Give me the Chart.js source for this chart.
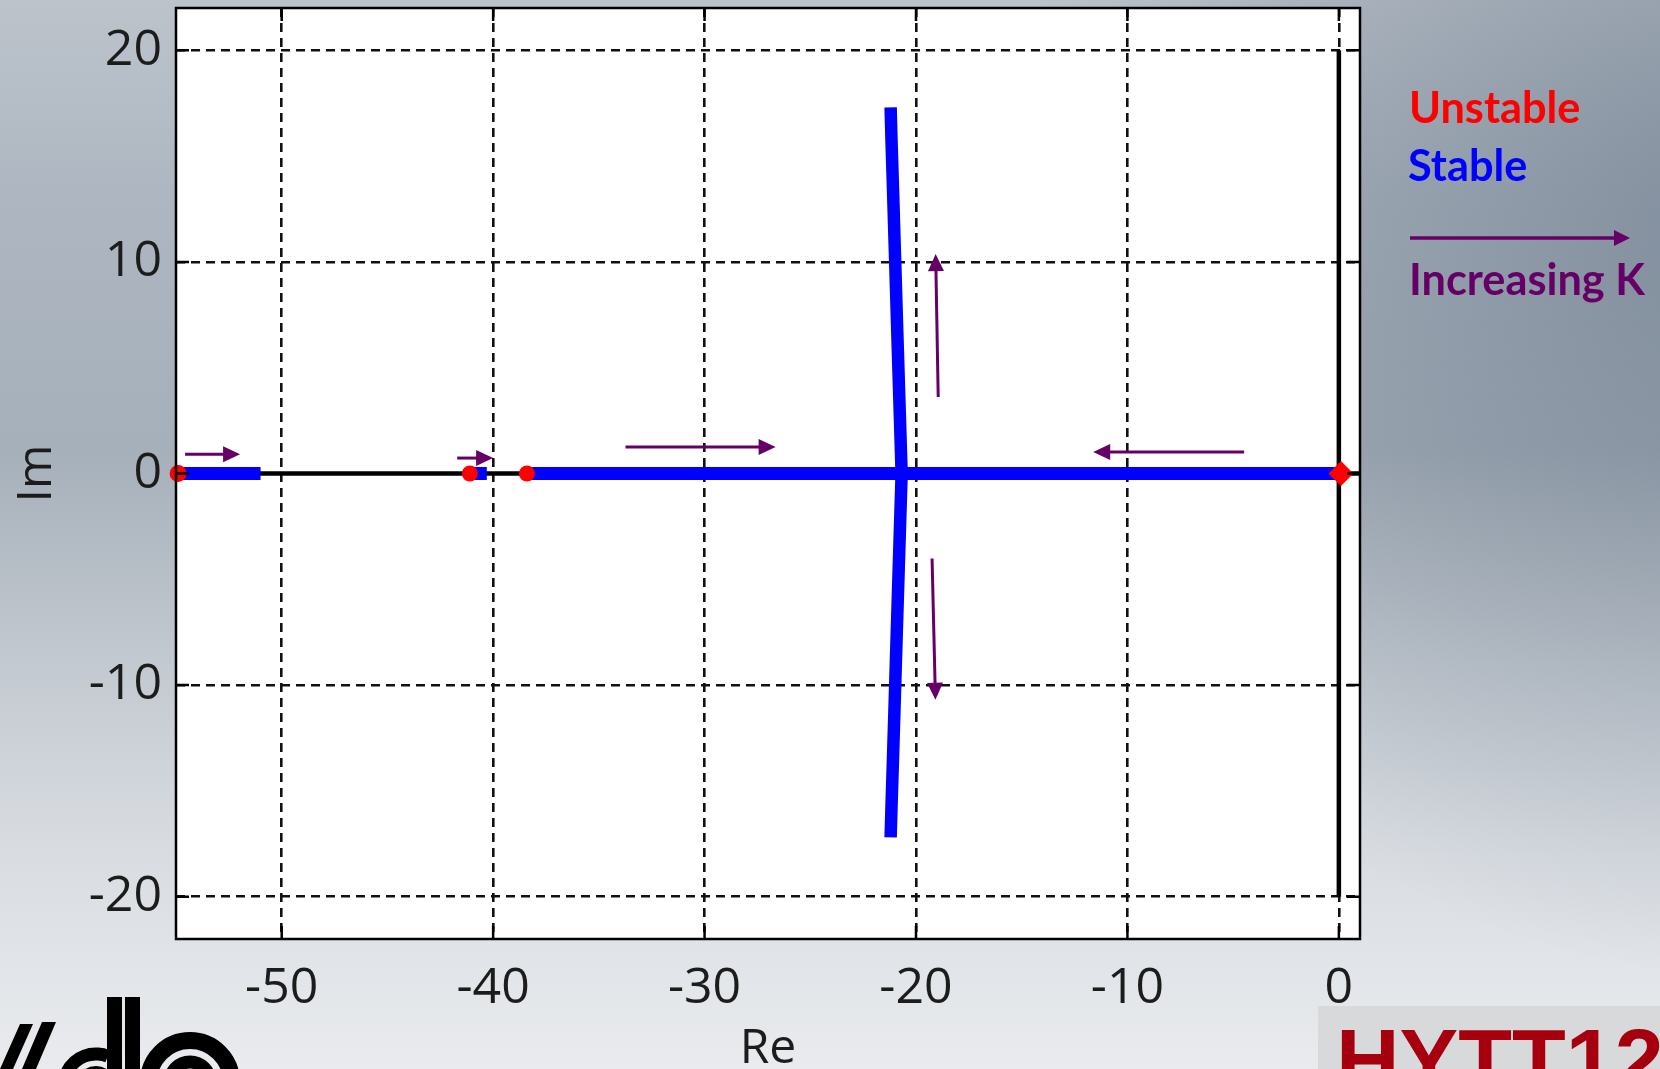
<!DOCTYPE html>
<html>
<head>
<meta charset="utf-8">
<title>Root locus</title>
<script src="https://cdn.jsdelivr.net/npm/chart.js@4.4.1/dist/chart.umd.min.js"></script>
<style>
  html, body { margin: 0; padding: 0; background: #e4e7ea; }
  #wrap { width: 1660px; height: 1069px; position: relative; overflow: hidden; }
  canvas { display: block; }
</style>
</head>
<body>
<div id="wrap"><canvas id="locus" width="1660" height="1069"></canvas></div>
<script>
// ---- axis ticks ----
const reTicks = [-50, -40, -30, -20, -10, 0];
const imTicks = [-20, -10, 0, 10, 20];

// ---- reference axes drawn inside the plot ----
const realAxisRe = [-55, 1];
const realAxisIm = [0, 0];
const imagAxisRe = [0, 0];
const imagAxisIm = [-20, 20];

// ---- stable locus branches on the real axis ----
const branch1Re = [-55, -51.0];
const branch2Re = [-41.1, -40.3];
const branch3Re = [-38.4, 0];
const branchIm  = [0, 0];

// ---- complex branch leaving the real axis near -20.7 ----
const complexRe = [-21.2, -21.16, -21.08, -20.99, -20.87, -20.68, -20.87, -20.99, -21.08, -21.16, -21.2];
const complexIm = [17.3, 15.8, 13.2, 10.2, 6.2, 0, -6.2, -10.2, -13.2, -15.8, -17.2];

// ---- open-loop poles ----
const poleRe = [-54.9, -41.1, -38.4, 0.1];
const poleIm = [0, 0, 0, 0];

// ---- direction arrows (increasing K) ----
const arrowFromRe = [-54.57, -41.7, -33.74, -4.48, -18.95, -19.24];
const arrowFromIm = [0.91, 0.73, 1.25, 1.02, 3.62, -4.02];
const arrowToRe   = [-51.97, -40.0, -26.64, -11.62, -19.07, -19.08];
const arrowToIm   = [0.91, 0.73, 1.25, 1.02, 10.37, -10.69];

const pts = (xs, ys) => xs.map((x, i) => ({ x: x, y: ys[i] }));

const BLUE = '#0000ff', RED = '#ff0000', PURPLE = '#660066', INK = '#1c1c1c';
const TICK_FONT = '"Open Sans", "Noto Sans", sans-serif';

function arrow(ctx, x1, y1, x2, y2, len, half, width, color) {
  const a = Math.atan2(y2 - y1, x2 - x1);
  const bx = x2 - len * Math.cos(a), by = y2 - len * Math.sin(a);
  ctx.save();
  ctx.strokeStyle = color;
  ctx.fillStyle = color;
  ctx.lineWidth = width;
  ctx.beginPath();
  ctx.moveTo(x1, y1);
  ctx.lineTo(bx + Math.cos(a), by + Math.sin(a));
  ctx.stroke();
  ctx.beginPath();
  ctx.moveTo(x2, y2);
  ctx.lineTo(bx + half * Math.sin(a), by - half * Math.cos(a));
  ctx.lineTo(bx - half * Math.sin(a), by + half * Math.cos(a));
  ctx.closePath();
  ctx.fill();
  ctx.restore();
}

// slide backdrop, plot background
const backdrop = {
  id: 'backdrop',
  beforeDraw(chart) {
    const { ctx, width, height, chartArea: ca } = chart;
    ctx.save();
    const g = ctx.createLinearGradient(0, 0, 0, height);
    g.addColorStop(0, '#bcc3cb');
    g.addColorStop(0.18, '#aeb7c1');
    g.addColorStop(0.42, '#a6b0ba');
    g.addColorStop(0.62, '#c3c9d0');
    g.addColorStop(0.8, '#d9dde2');
    g.addColorStop(1, '#e9ebee');
    ctx.fillStyle = g;
    ctx.fillRect(0, 0, width, height);
    const r = ctx.createRadialGradient(1760, 220, 40, 1760, 220, 760);
    r.addColorStop(0, 'rgba(70,88,110,0.42)');
    r.addColorStop(1, 'rgba(70,88,110,0)');
    ctx.fillStyle = r;
    ctx.fillRect(0, 0, width, height);
    ctx.fillStyle = '#ffffff';
    ctx.fillRect(ca.left, ca.top, ca.right - ca.left, ca.bottom - ca.top);
    ctx.restore();
  }
};

// arrows, frame with inward tick marks, key and slide marks
const overlay = {
  id: 'overlay',
  afterDatasetsDraw(chart) {
    const { ctx, chartArea: ca, scales: { x, y } } = chart;
    ctx.save();
    ctx.beginPath();
    ctx.rect(ca.left, ca.top, ca.right - ca.left, ca.bottom - ca.top);
    ctx.clip();
    arrowFromRe.forEach((_, i) => {
      arrow(ctx,
        x.getPixelForValue(arrowFromRe[i]), y.getPixelForValue(arrowFromIm[i]),
        x.getPixelForValue(arrowToRe[i]), y.getPixelForValue(arrowToIm[i]),
        17, 8, 3, PURPLE);
    });
    ctx.restore();

    ctx.save();
    ctx.strokeStyle = '#000';
    ctx.lineWidth = 2.5;
    const tl = 13;
    ctx.beginPath();
    reTicks.forEach(v => {
      const px = x.getPixelForValue(v);
      ctx.moveTo(px, ca.bottom); ctx.lineTo(px, ca.bottom - tl);
      ctx.moveTo(px, ca.top); ctx.lineTo(px, ca.top + tl);
    });
    imTicks.forEach(v => {
      const py = y.getPixelForValue(v);
      ctx.moveTo(ca.left, py); ctx.lineTo(ca.left + tl, py);
      ctx.moveTo(ca.right, py); ctx.lineTo(ca.right - tl, py);
    });
    ctx.stroke();
    ctx.strokeRect(ca.left, ca.top, ca.right - ca.left, ca.bottom - ca.top);
    ctx.restore();
  },
  afterDraw(chart) {
    const { ctx } = chart;
    ctx.save();
    // key on the right
    const keyFont = s => 'bold ' + s + 'px Lato, "Open Sans", sans-serif';
    let size = 46;
    ctx.font = keyFont(size);
    size = size * 236 / ctx.measureText('Increasing K').width;
    ctx.font = keyFont(size);
    ctx.textBaseline = 'alphabetic';
    ctx.textAlign = 'left';
    ctx.fillStyle = RED;
    ctx.fillText('Unstable', 1409, 123);
    ctx.fillStyle = BLUE;
    ctx.fillText('Stable', 1408, 181);
    ctx.fillStyle = PURPLE;
    ctx.fillText('Increasing K', 1409, 295);
    arrow(ctx, 1410, 238, 1630, 238, 16, 8, 3.5, PURPLE);

    // event badge, bottom right
    ctx.fillStyle = '#d8d9db';
    ctx.fillRect(1318, 1006, 342, 63);
    ctx.fillStyle = '#a6000f';
    ctx.font = 'bold 88px "Liberation Sans", Arial, sans-serif';
    ctx.fillText('HYTT12', 1336, 1090);

    // company mark, bottom left
    ctx.fillStyle = '#000';
    ctx.beginPath();
    ctx.moveTo(0, 1069); ctx.lineTo(13, 1069); ctx.lineTo(33, 1024); ctx.lineTo(20, 1024); ctx.closePath();
    ctx.moveTo(22, 1069); ctx.lineTo(36, 1069); ctx.lineTo(56, 1022); ctx.lineTo(42, 1022); ctx.closePath();
    ctx.fill();
    ctx.lineWidth = 13;
    ctx.strokeStyle = '#000';
    ctx.beginPath(); ctx.arc(96, 1086, 32, Math.PI * 1.02, Math.PI * 1.62); ctx.stroke();
    ctx.lineWidth = 8;
    ctx.beginPath(); ctx.arc(96, 1086, 16, Math.PI * 1.0, Math.PI * 1.7); ctx.stroke();
    ctx.fillRect(107, 997, 15, 72);
    ctx.fillRect(125, 997, 15, 72);
    ctx.lineWidth = 17;
    ctx.beginPath(); ctx.arc(190, 1082, 41.5, 0, Math.PI * 2); ctx.stroke();
    ctx.lineWidth = 13;
    ctx.beginPath(); ctx.arc(190, 1082, 20, 0, Math.PI * 2); ctx.stroke();
    ctx.restore();
  }
};

const lineDs = (data, color, width, order) => ({
  data, order, showLine: true, borderColor: color, borderWidth: width,
  pointRadius: 0, pointHoverRadius: 0, borderCapStyle: 'butt', borderJoinStyle: 'round',
  tension: 0, fill: false
});

const chart = new Chart(document.getElementById('locus'), {
  type: 'scatter',
  data: {
    datasets: [
      lineDs(pts(realAxisRe, realAxisIm), '#000', 4.5, 3),
      lineDs(pts(imagAxisRe, imagAxisIm), '#000', 4.5, 3),
      lineDs(pts(branch1Re, branchIm), BLUE, 13, 2),
      lineDs(pts(branch2Re, branchIm), BLUE, 13, 2),
      lineDs(pts(branch3Re, branchIm), BLUE, 13, 2),
      lineDs(pts(complexRe, complexIm), BLUE, 12.5, 2),
      {
        data: pts(poleRe, poleIm), order: 1, showLine: false, clip: false,
        pointStyle: ['circle', 'circle', 'circle', 'rectRot'],
        pointRadius: [8.5, 8, 8, 12.5],
        pointBackgroundColor: RED, pointBorderWidth: 0, pointHoverRadius: 0
      }
    ]
  },
  options: {
    responsive: false,
    animation: false,
    devicePixelRatio: 1,
    events: [],
    layout: { autoPadding: false, padding: { left: 0, right: 300, top: 8, bottom: 0 } },
    plugins: { legend: { display: false }, tooltip: { enabled: false } },
    scales: {
      x: {
        type: 'linear', min: -55, max: 1,
        afterBuildTicks: s => { s.ticks = reTicks.map(v => ({ value: v })); },
        afterFit: s => { s.height = 130; s.paddingLeft = 0; s.paddingRight = 0; },
        grid: { color: '#111', lineWidth: 2.6, drawTicks: false },
        border: { display: false, dash: [9, 6] },
        ticks: { color: INK, padding: 20, maxRotation: 0, autoSkip: false,
                 font: { family: TICK_FONT, size: 50 }, callback: v => String(v) },
        title: { display: true, text: 'Re', color: INK,
                 font: { family: TICK_FONT, size: 48, lineHeight: 0.8 }, padding: { top: 0, bottom: 0 } }
      },
      y: {
        type: 'linear', min: -22, max: 22,
        afterBuildTicks: s => { s.ticks = imTicks.map(v => ({ value: v })); },
        afterFit: s => { s.width = 176; s.paddingTop = 0; s.paddingBottom = 0; },
        grid: { color: '#111', lineWidth: 2.6, drawTicks: false },
        border: { display: false, dash: [9, 6] },
        ticks: { color: INK, padding: 14, autoSkip: false,
                 font: { family: TICK_FONT, size: 50 }, callback: v => String(v) },
        title: { display: true, text: 'Im', color: INK,
                 font: { family: TICK_FONT, size: 48, lineHeight: 1 }, padding: { top: 13, bottom: 0 } }
      }
    }
  },
  plugins: [backdrop, overlay]
});
</script>
</body>
</html>
